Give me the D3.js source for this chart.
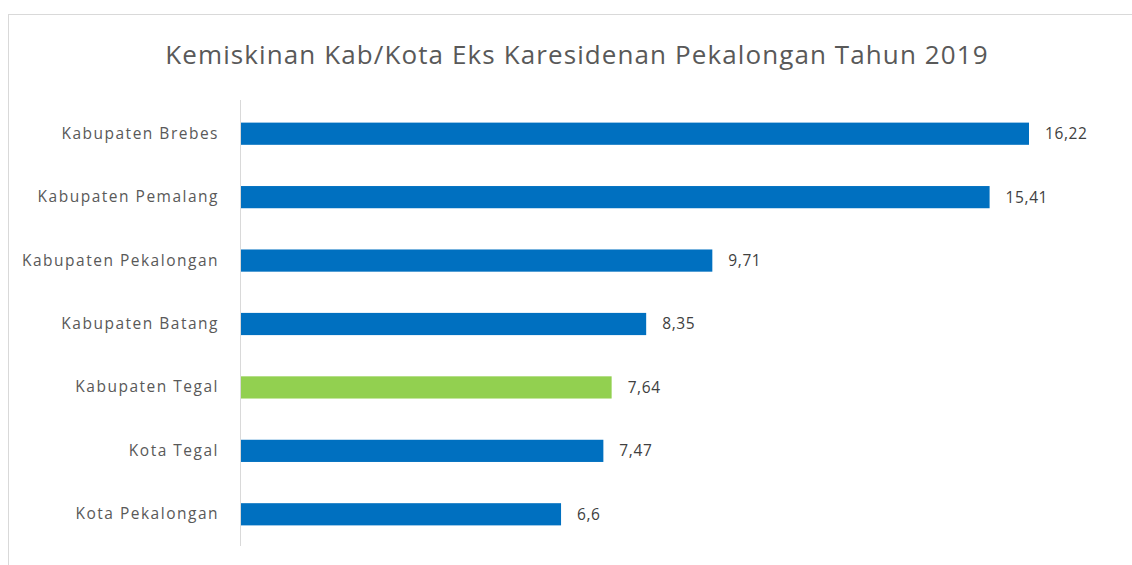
<!DOCTYPE html>
<html>
<head>
<meta charset="utf-8">
<script src="https://cdn.jsdelivr.net/npm/d3@7"></script>
<style>
  body { margin: 0; background: #fff; }
  svg { display: block; font-family: "Open Sans", "Noto Sans", sans-serif; }
</style>
</head>
<body>
<div class="container"></div>
<script>
const regions = ['Kabupaten Brebes', 'Kabupaten Pemalang', 'Kabupaten Pekalongan', 'Kabupaten Batang', 'Kabupaten Tegal', 'Kota Tegal', 'Kota Pekalongan'];
const values = [16.22, 15.41, 9.71, 8.35, 7.64, 7.47, 6.6];
const highlight = ['Kabupaten Tegal'];

const width = 1132, height = 565;
const margin = {top: 102, left: 240};

const svg = d3.select('.container').append('svg')
    .attr('width', width)
    .attr('height', height);

// chart frame
svg.append('rect')
    .attr('x', 8.5).attr('y', 14.5)
    .attr('width', 1140).attr('height', 600)
    .attr('fill', 'none')
    .attr('stroke', '#d9d9d9');

svg.append('text')
    .attr('x', 577).attr('y', 64)
    .attr('text-anchor', 'middle')
    .attr('font-size', '26px')
    .attr('letter-spacing', '1.1px')
    .attr('fill', '#595959')
    .text('Kemiskinan Kab/Kota Eks Karesidenan Pekalongan Tahun 2019');

const x = d3.scaleLinear().domain([0, 16.22]).range([margin.left, 1029]);
const y = d3.scaleBand().domain(regions).range([margin.top, 546]).paddingInner(0.65).paddingOuter(0.325);

const data = regions.map((r, i) => ({name: r, value: values[i]}));

svg.selectAll('rect.bar')
    .data(data)
    .enter().append('rect')
    .attr('class', 'bar')
    .attr('x', x(0))
    .attr('y', d => y(d.name))
    .attr('width', d => x(d.value) - x(0))
    .attr('height', y.bandwidth())
    .attr('fill', d => highlight.includes(d.name) ? '#92d050' : '#0070c0');

const yAxis = svg.append('g')
    .attr('transform', `translate(${x(0)},0)`)
    .call(d3.axisLeft(y).tickSize(0).tickPadding(21));
yAxis.select('.domain').attr('stroke', '#d9d9d9').attr('d', `M0.5,${margin.top - 2}V546`);
yAxis.selectAll('text')
    .attr('font-family', '"Open Sans", "Noto Sans", sans-serif')
    .attr('font-size', '15.5px')
    .attr('letter-spacing', '1.5px')
    .attr('fill', '#595959');

svg.selectAll('text.val')
    .data(data)
    .enter().append('text')
    .attr('class', 'val')
    .attr('x', d => x(d.value) + 16)
    .attr('y', d => y(d.name) + y.bandwidth() / 2)
    .attr('dy', '0.35em')
    .attr('font-size', '15.5px')
    .attr('letter-spacing', '0.6px')
    .attr('fill', '#404040')
    .text(d => String(d.value).replace('.', ','));
</script>
</body>
</html>
